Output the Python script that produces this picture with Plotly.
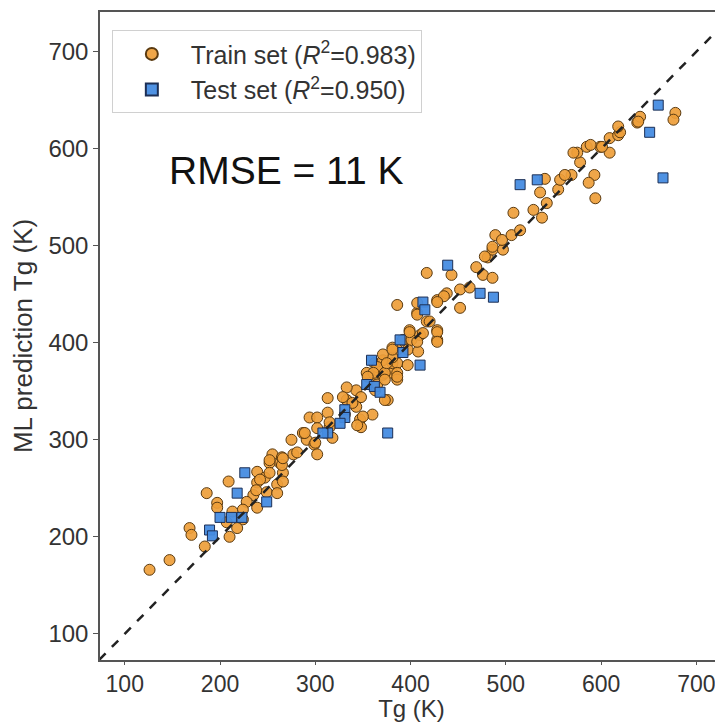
import plotly.graph_objects as go

# Train set (orange circles): actual Tg, predicted Tg
train_x = [126,147,168,170,184,186,197,197,209,239,247,255,263,252,266,260,239,249,235,228,239,224,213,207,224,218,210,238,242,260,266,252,
           252,265,277,265,275,291,299,302,287,294,302,313,302,315,318,331,313,343,348,333,363,343,347,348,360,376,362,367,381,362,371,381,386,386,386,392,281,266,289,300,333,329,339,373,350,344,315,
           354,371,386,365,365,361,373,386,355,373,381,371,397,408,381,397,375,399,410,428,401,417,428,407,386,407,452,428,438,452,462,417,443,407,420,399,413,428,428,407,381,435,428,
           469,476,486,481,486,497,478,486,489,496,506,515,508,529,538,536,543,555,541,557,569,578,575,585,599,609,593,587,594,601,609,618,620,618,638,641,639,678,676,589,571,562]
train_y = [166,176,209,202,190,245,235,230,257,267,261,285,276,276,266,254,256,246,243,236,230,228,226,215,218,209,200,248,259,245,257,266,
           279,282,285,274,300,300,295,285,307,323,323,328,312,313,302,326,343,351,344,341,351,334,321,313,326,341,367,370,369,379,382,379,379,369,393,403,287,281,307,297,354,344,338,341,324,315,318,
           369,367,362,357,375,369,369,365,365,362,385,388,393,391,395,377,379,413,408,403,403,422,413,431,439,441,436,444,451,455,457,472,470,429,422,411,410,411,401,401,393,448,442,
           478,470,467,488,496,496,489,499,511,506,511,516,534,537,529,555,544,558,569,568,573,586,596,602,602,596,573,565,549,602,611,614,617,623,627,633,628,637,630,604,596,573]

# Test set (blue squares)
test_x = [660,651,665,533,515,439,473,487,413,415,392,389,410,359,354,362,368,376,331,331,313,308,326,226,218,249,212,200,223,189,192]
test_y = [645,617,570,568,563,480,451,447,442,434,390,403,377,382,357,355,349,307,331,323,307,307,317,266,245,236,220,220,220,207,201]

diag = [60, 760]
tick_vals = [100, 200, 300, 400, 500, 600, 700]

FONT = "Liberation Sans, Arial, sans-serif"

fig = go.Figure()
fig.add_trace(go.Scatter(
    x=train_x, y=train_y, mode="markers", legendgroup="a",
    name="Train set (<i>R</i><sup>2</sup>=0.983)",
    marker=dict(symbol="circle", size=11, color="rgba(238,158,58,0.92)",
                line=dict(color="#5a3a10", width=1)),
))
fig.add_trace(go.Scatter(
    x=test_x, y=test_y, mode="markers", legendgroup="b",
    name="Test set (<i>R</i><sup>2</sup>=0.950)",
    marker=dict(symbol="square", size=10, color="rgba(70,140,225,0.95)",
                line=dict(color="#1c2f55", width=1)),
))
fig.add_trace(go.Scatter(
    x=diag, y=diag, mode="lines", showlegend=False, hoverinfo="skip",
    line=dict(color="#222222", width=2.5, dash="dash"),
))

fig.add_annotation(x=269, y=578, xref="x", yref="y", text="RMSE = 11 K",
                   showarrow=False, font=dict(size=39, color="#111111", family=FONT))

axis_common = dict(
    showgrid=False, zeroline=False, showline=True, linecolor="#555555", linewidth=1.5,
    ticks="outside", tickcolor="#555555", automargin=False,
    tickvals=tick_vals,
)
fig.update_xaxes(range=[74, 728], mirror=True, ticklen=3,
                 tickfont=dict(size=23, color="#333333", family=FONT),
                 title=dict(text="Tg (K)", font=dict(size=24, color="#333333", family=FONT), standoff=3),
                 **axis_common)
fig.update_yaxes(range=[73, 741], mirror=False, ticklen=5,
                 tickfont=dict(size=24, color="#333333", family=FONT),
                 title=dict(text="ML prediction Tg (K)", font=dict(size=26, color="#333333", family=FONT), standoff=8),
                 **axis_common)

# page body keeps an 8px default margin, so the figure is sized to fit the window after it
fig.update_layout(
    width=715, height=714,
    margin=dict(l=92, r=0, t=4, b=62),
    plot_bgcolor="white", paper_bgcolor="white",
    font=dict(family=FONT),
    legend=dict(x=0.019, y=0.972, xanchor="left", yanchor="top",
                bgcolor="rgba(255,255,255,0.9)", bordercolor="#d0d0d0", borderwidth=1,
                font=dict(size=25, color="#333333", family=FONT),
                itemsizing="constant", itemwidth=68, tracegroupgap=0),
)

fig.write_html("out.html")
